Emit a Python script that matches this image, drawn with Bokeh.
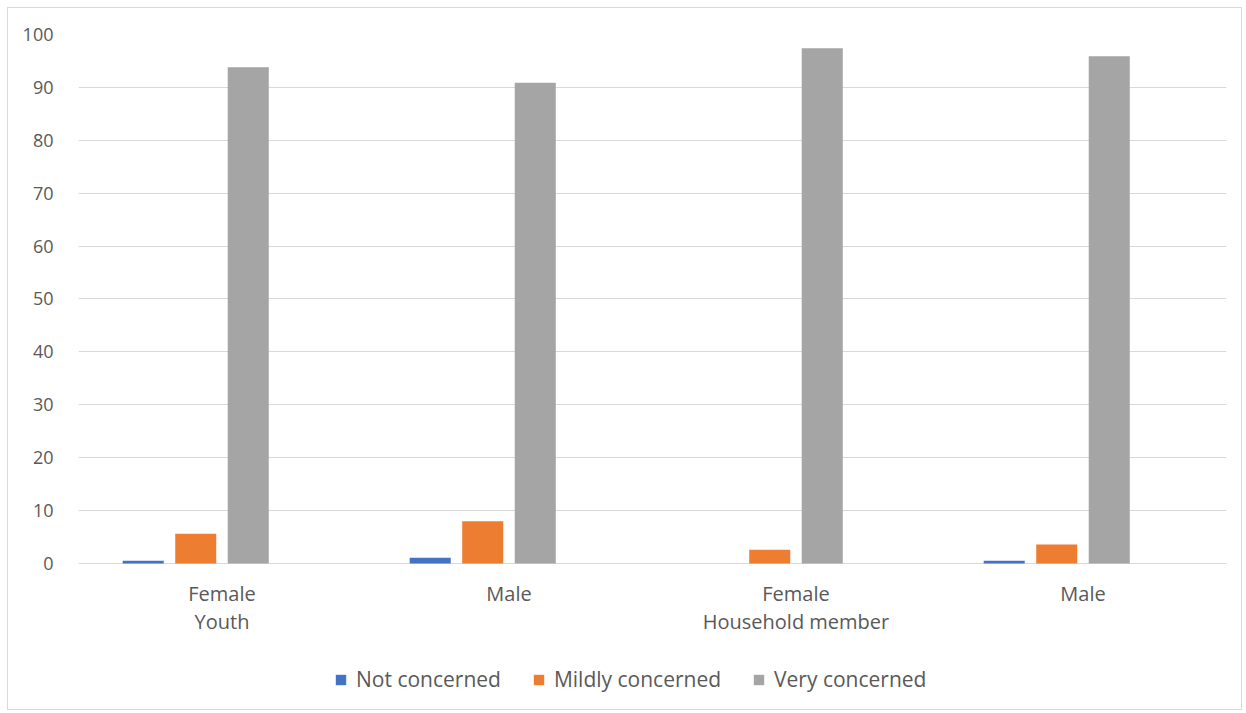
from bokeh.plotting import figure
from bokeh.models import (ColumnDataSource, Range1d, Legend, LegendItem, FixedTicker)
from bokeh.core.properties import value
from bokeh.embed import file_html
from bokeh.resources import INLINE

# Respondents: gender within each respondent type
genders = ["Female", "Male", "Female", "Male"]
respondent_types = ["Youth", "Household member"]

# Share of respondents (%) by level of concern
not_concerned = [0.5, 1.1, 0.0, 0.5]
mildly_concerned = [5.6, 8.0, 2.6, 3.6]
very_concerned = [93.8, 90.9, 97.4, 95.9]

series_names = ["Not concerned", "Mildly concerned", "Very concerned"]
colors = ["#4472C4", "#ED7D31", "#A5A5A5"]
y_ticks = list(range(0, 101, 10))

pos = list(range(len(genders)))
type_pos = pos[::2]  # each respondent type is labelled under its first bar group

FONT = "Open Sans"
TEXT_COLOR = "#595959"

# The frame reaches down past zero so the category labels and the legend
# sit inside it, under the value scale.
Y_BOTTOM = -27.6
p = figure(
    x_range=Range1d(-0.5, len(genders) - 0.5),
    y_range=Range1d(Y_BOTTOM, 100),
    frame_width=1148, frame_height=675,
    output_backend="svg", toolbar_location=None,
    x_axis_location=None,
    min_border_left=70, min_border_right=15,
    min_border_top=26, min_border_bottom=0,
    styles={"border": "1px solid #d9d9d9", "margin-left": "7px", "margin-top": "7px"},
)

# Four bar slots per group; the last slot stays empty
slot = 0.183
bar_w = 0.143
offsets = [-1.5 * slot, -0.5 * slot, 0.5 * slot]
values = [not_concerned, mildly_concerned, very_concerned]

renderers = []
for vals, off, color in zip(values, offsets, colors):
    src = ColumnDataSource(data=dict(x=[i + off for i in pos], top=vals))
    r = p.vbar(x="x", top="top", bottom=0, width=bar_w, source=src,
               color=color, line_color=None)
    renderers.append(r)

# Value axis
yax = p.left[0]
yax.ticker = FixedTicker(ticks=y_ticks)
yax.axis_line_color = None
yax.major_tick_line_color = None
yax.minor_tick_line_color = None
yax.major_tick_in = 0
yax.major_tick_out = 0
yax.minor_tick_in = 0
yax.minor_tick_out = 0
yax.major_label_standoff = 25
yax.major_label_text_font = FONT
yax.major_label_text_font_size = "18px"
yax.major_label_text_color = TEXT_COLOR

# Category labels: gender on the first line, respondent type on the second
gender_src = ColumnDataSource(data=dict(x=pos, y=[-5.6] * len(pos), text=genders))
p.text(x="x", y="y", text="text", source=gender_src,
       text_font=value(FONT), text_font_size=value("20px"), text_color=TEXT_COLOR,
       text_align="center", text_baseline="middle")
type_src = ColumnDataSource(data=dict(x=type_pos, y=[-10.9] * len(type_pos), text=respondent_types))
p.text(x="x", y="y", text="text", source=type_src,
       text_font=value(FONT), text_font_size=value("20px"), text_color=TEXT_COLOR,
       text_align="center", text_baseline="middle")

p.xgrid.grid_line_color = None
p.ygrid.grid_line_color = "#d9d9d9"
p.ygrid.grid_line_width = 1
p.outline_line_color = None

legend = Legend(
    items=[LegendItem(label=n, renderers=[r]) for n, r in zip(series_names, renderers)],
    orientation="horizontal", location=(256, 16),
    glyph_width=13, glyph_height=13, label_standoff=9, spacing=31,
    label_text_font=FONT, label_text_font_size="21px", label_text_color=TEXT_COLOR,
    label_height=20,
    border_line_color=None, background_fill_alpha=0, margin=0, padding=0,
)
p.add_layout(legend, "center")

open("out.html", "w").write(file_html(p, INLINE))
